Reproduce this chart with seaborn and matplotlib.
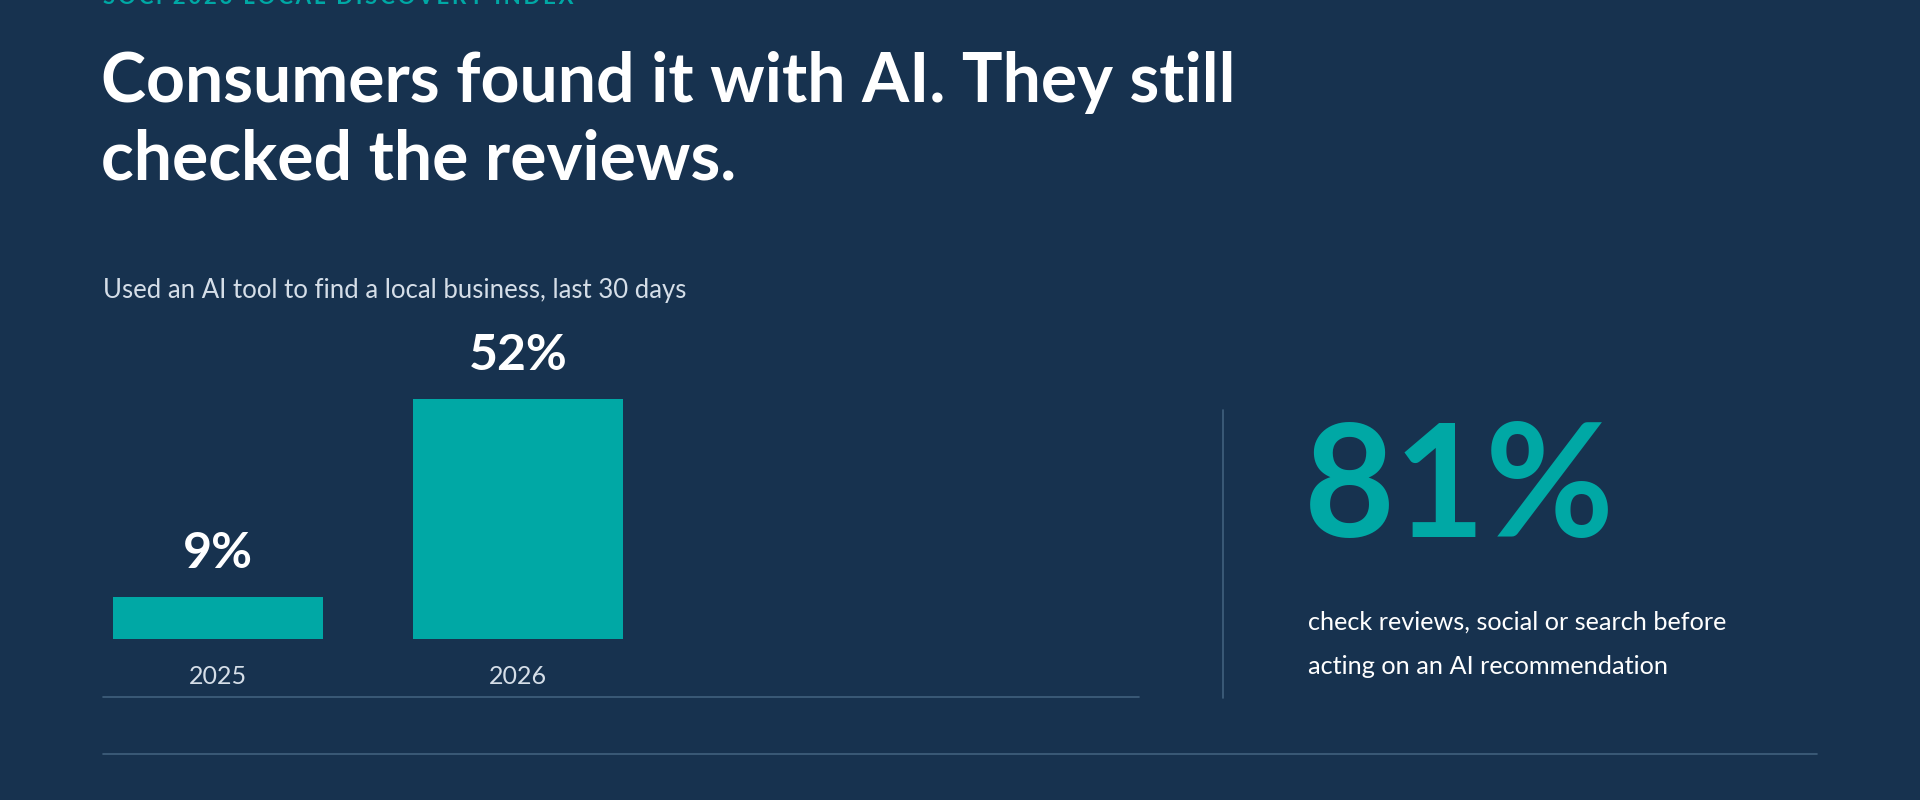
import matplotlib
matplotlib.use("Agg")
import matplotlib.pyplot as plt
import matplotlib.transforms as mtransforms
import seaborn as sns
import pandas as pd

# chart data
years = ["2025", "2026"]
shares = [9, 52]
value_labels = ["9%", "52%"]
kicker = "SOCi 2026 LOCAL DISCOVERY INDEX"
title_lines = ["Consumers found it with AI. They still", "checked the reviews."]
subtitle = "Used an AI tool to find a local business, last 30 days"
big_stat = "81%"
stat_caption = ["check reviews, social or search before", "acting on an AI recommendation"]

BG = "#17324F"
TEAL = "#00A8A5"
RULE = "#41607D"

sns.set_theme(style="white")
plt.rcParams["font.family"] = ["Lato", "DejaVu Sans"]

W, H = 1920, 800
fig = plt.figure(figsize=(W / 100, H / 100), dpi=100, facecolor=BG)


def fy(py):
    return 1 - py / H


def fx(px):
    return px / W


# letter-spaced kicker, cut at the top edge like the reference
fig.text(fx(103), fy(-2), "\u2009".join(kicker), color=TEAL, fontsize=16, fontweight="bold",
         va="center", ha="left")
fig.text(fx(101), fy(83), title_lines[0], color="white", fontsize=49, fontweight="bold", va="center")
fig.text(fx(101), fy(160), title_lines[1], color="white", fontsize=49, fontweight="bold", va="center")
fig.text(fx(103), fy(290), subtitle, color="#D5DEE8", fontsize=18.5, va="center")

# bar axes: bottom at y=639 px, top (52%) at y=399 px
ax = fig.add_axes([fx(103), fy(639), fx(1139 - 103), (639 - 399) / H])
ax.set_facecolor(BG)
df = pd.DataFrame({"year": years, "share": shares})
sns.barplot(data=df, x="year", y="share", color=TEAL, width=0.7, saturation=1,
            linewidth=0, ax=ax)
ax.set_ylim(0, 52)
ax.set_xlim(-0.383, 3.07)
ax.axis("off")

trans = mtransforms.blended_transform_factory(ax.transData, fig.transFigure)
for i, (v, lab, yr) in enumerate(zip(shares, value_labels, years)):
    ax.text(i, v + 9.5, lab, color="white", fontsize=36, fontweight="bold", ha="center", va="center")
    ax.text(i, fy(677), yr, color="#D5DEE8", fontsize=18, ha="center", va="center", transform=trans)

# rules
fig.add_artist(plt.Line2D([fx(103), fx(1139)], [fy(697), fy(697)], color=RULE, lw=1.2))
fig.add_artist(plt.Line2D([fx(1223), fx(1223)], [fy(410), fy(698)], color=RULE, lw=1.2))
fig.add_artist(plt.Line2D([fx(103), fx(1817)], [fy(754), fy(754)], color=RULE, lw=1.2))

fig.text(fx(1304), fy(492), big_stat, color=TEAL, fontsize=113, fontweight="bold", va="center")
fig.text(fx(1308), fy(622), stat_caption[0], color="white", fontsize=18.2, va="center")
fig.text(fx(1308), fy(666), stat_caption[1], color="white", fontsize=18.2, va="center")

fig.savefig("out.png", dpi=100, facecolor=BG)
